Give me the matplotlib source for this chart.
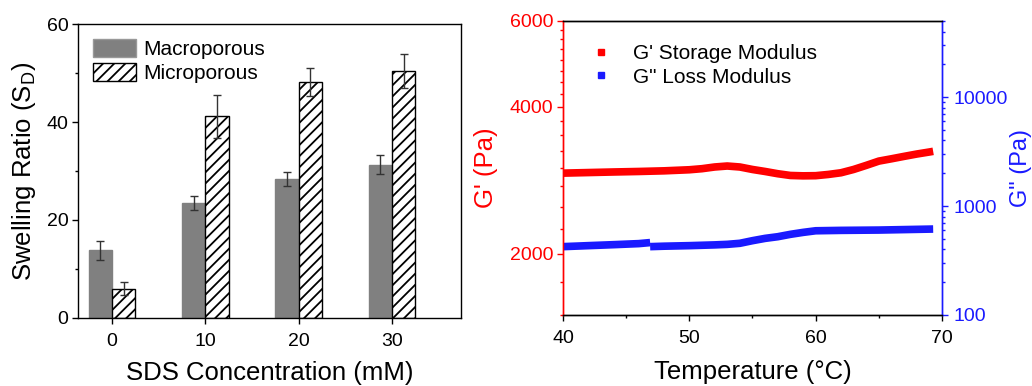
import numpy as np
import matplotlib.pyplot as plt
from matplotlib.ticker import FixedLocator, MultipleLocator, NullFormatter, FuncFormatter, LogLocator
from matplotlib.lines import Line2D
from matplotlib.patches import Patch

plt.rcParams['font.family'] = ['Liberation Sans', 'DejaVu Sans']
plt.rcParams['hatch.linewidth'] = 1.3
plt.rcParams['mathtext.fontset'] = 'custom'
plt.rcParams['mathtext.rm'] = 'Liberation Sans'

# swelling ratio data
sds = [0, 10, 20, 30]
macro = [13.8, 23.4, 28.4, 31.3]
macro_err = [2.0, 1.4, 1.4, 2.0]
micro = [6.0, 41.2, 48.2, 50.4]
micro_err = [1.3, 4.4, 2.8, 3.4]

# rheology data
temp = [40, 42, 44, 46, 48, 50, 51, 52, 53, 54, 55, 56, 57, 58, 59, 60, 61, 62,
        63, 64, 65, 66, 67, 68, 69, 69.3]
g_storage = [2928, 2936, 2944, 2951, 2960, 2975, 2990, 3014, 3028, 3014, 2979,
             2951, 2920, 2896, 2891, 2893, 2910, 2933, 2979, 3037, 3099, 3133,
             3169, 3204, 3235, 3245]
# loss modulus has a small step at ~46.9 C, kept as two pieces
temp_loss_a = [40, 42, 44, 46, 46.9]
g_loss_a = [424, 433, 442, 452, 462]
temp_loss_b = [46.9, 48, 50, 52, 53, 54, 55, 56, 57, 58, 59, 60, 62, 65, 67, 69.3]
g_loss_b = [424, 428, 433, 440, 445, 455, 481, 505, 523, 550, 573, 593, 598, 602,
            608, 615]

fig = plt.figure(figsize=(10.32, 3.86), dpi=100)

# ---- left panel: bars
ax1 = fig.add_axes([0.0756, 0.1762, 0.3711, 0.7616])
w = 2.5
x = np.array(sds)
ax1.bar(x - w/2, macro, w, color='#808080', edgecolor='#808080', label='Macroporous', zorder=2)
ax1.bar(x + w/2, micro, w, color='white', edgecolor='black', hatch='///', lw=1.0,
        label='Microporous', zorder=2)
ax1.errorbar(x - w/2, macro, yerr=macro_err, fmt='none', ecolor='#333333', elinewidth=1,
             capsize=3, capthick=1, zorder=3)
ax1.errorbar(x + w/2, micro, yerr=micro_err, fmt='none', ecolor='#333333', elinewidth=1,
             capsize=3, capthick=1, zorder=3)
ax1.set_xlim(-3.64, 37.4)
ax1.set_ylim(0, 60)
ax1.set_xticks(sds)
ax1.set_yticks([0, 20, 40, 60])
ax1.yaxis.set_minor_locator(MultipleLocator(10))
ax1.tick_params(axis='both', which='major', labelsize=14, length=4, width=1, pad=3)
ax1.tick_params(axis='x', which='major', pad=7)
ax1.tick_params(axis='y', which='minor', length=2.5, width=1)
ax1.set_xlabel('SDS Concentration (mM)', fontsize=18.5, labelpad=8)
ax1.set_ylabel('Swelling Ratio (S$_\\mathregular{D}$)', fontsize=18.5, labelpad=6)
for s in ax1.spines.values():
    s.set_linewidth(1.0)
ax1.legend(handles=[Patch(facecolor='#808080', edgecolor='#999999', label='Macroporous'),
                    Patch(facecolor='white', edgecolor='black', hatch='///', label='Microporous')],
           loc='upper left', bbox_to_anchor=(0.0, 1.0), frameon=False, fontsize=15,
           handlelength=2.1, handleheight=0.95, handletextpad=0.35, labelspacing=0.2,
           borderaxespad=0.5, borderpad=0.2)

# ---- right panel: moduli
red = '#ff0000'
blue = '#1a1aff'
ax2 = fig.add_axes([0.5455, 0.184, 0.3673, 0.7616])
ax3 = ax2.twinx()
ax2.plot(temp, g_storage, color=red, lw=5.5, solid_capstyle='butt', solid_joinstyle='bevel')
ax3.plot(temp_loss_a, g_loss_a, color=blue, lw=5.5, solid_capstyle='butt', solid_joinstyle='bevel')
ax3.plot(temp_loss_b, g_loss_b, color=blue, lw=5.5, solid_capstyle='butt', solid_joinstyle='bevel')

ax2.set_xlim(40, 70)
ax2.set_xticks([40, 50, 60, 70])
ax2.xaxis.set_minor_locator(MultipleLocator(5))
ax2.set_yscale('log')
ax2.set_ylim(1500, 6000)
ax2.yaxis.set_major_locator(FixedLocator([2000, 4000, 6000]))
ax2.yaxis.set_major_formatter(FuncFormatter(lambda v, p: '%d' % v))
ax2.yaxis.set_minor_locator(MultipleLocator(250))
ax2.yaxis.set_minor_formatter(NullFormatter())

ax3.set_yscale('log')
ax3.set_ylim(100, 50000)
ax3.yaxis.set_major_locator(LogLocator(base=10))
ax3.yaxis.set_major_formatter(FuncFormatter(lambda v, p: '%d' % v))
ax3.yaxis.set_minor_locator(LogLocator(base=10, subs=np.arange(2, 10)))
ax3.yaxis.set_minor_formatter(NullFormatter())

ax2.tick_params(axis='x', which='major', labelsize=14, length=4, width=1, pad=7)
ax2.tick_params(axis='x', which='minor', length=2.5, width=1)
ax2.tick_params(axis='y', which='major', labelsize=14, length=4, width=1, pad=3,
                colors=red)
ax2.tick_params(axis='y', which='minor', length=2.5, width=1, colors=red)
ax3.tick_params(axis='y', which='major', labelsize=14, length=4, width=1, pad=4,
                colors=blue)
ax3.tick_params(axis='y', which='minor', length=2.5, width=1, colors=blue)

ax2.spines['left'].set_color(red)
ax3.spines['left'].set_color(red)
ax2.spines['right'].set_color(blue)
ax3.spines['right'].set_color(blue)
for a in (ax2, ax3):
    for s in a.spines.values():
        s.set_linewidth(1.0)

ax2.set_xlabel('Temperature (\u00b0C)', fontsize=18.5, labelpad=9)
ax2.set_ylabel("G' (Pa)", fontsize=18.5, color=red, labelpad=8)
ax3.set_ylabel('G" (Pa)', fontsize=17, color=blue, labelpad=2)

ax2.legend(handles=[Line2D([], [], color=red, marker='s', ms=5, ls='none', label="G' Storage Modulus"),
                    Line2D([], [], color=blue, marker='s', ms=5, ls='none', label='G" Loss Modulus')],
           loc='upper left', bbox_to_anchor=(0.02, 0.97), frameon=False, fontsize=15,
           handlelength=1.5, handletextpad=0.8, labelspacing=0.2, borderpad=0.2)

fig.savefig('out.png', dpi=100)
